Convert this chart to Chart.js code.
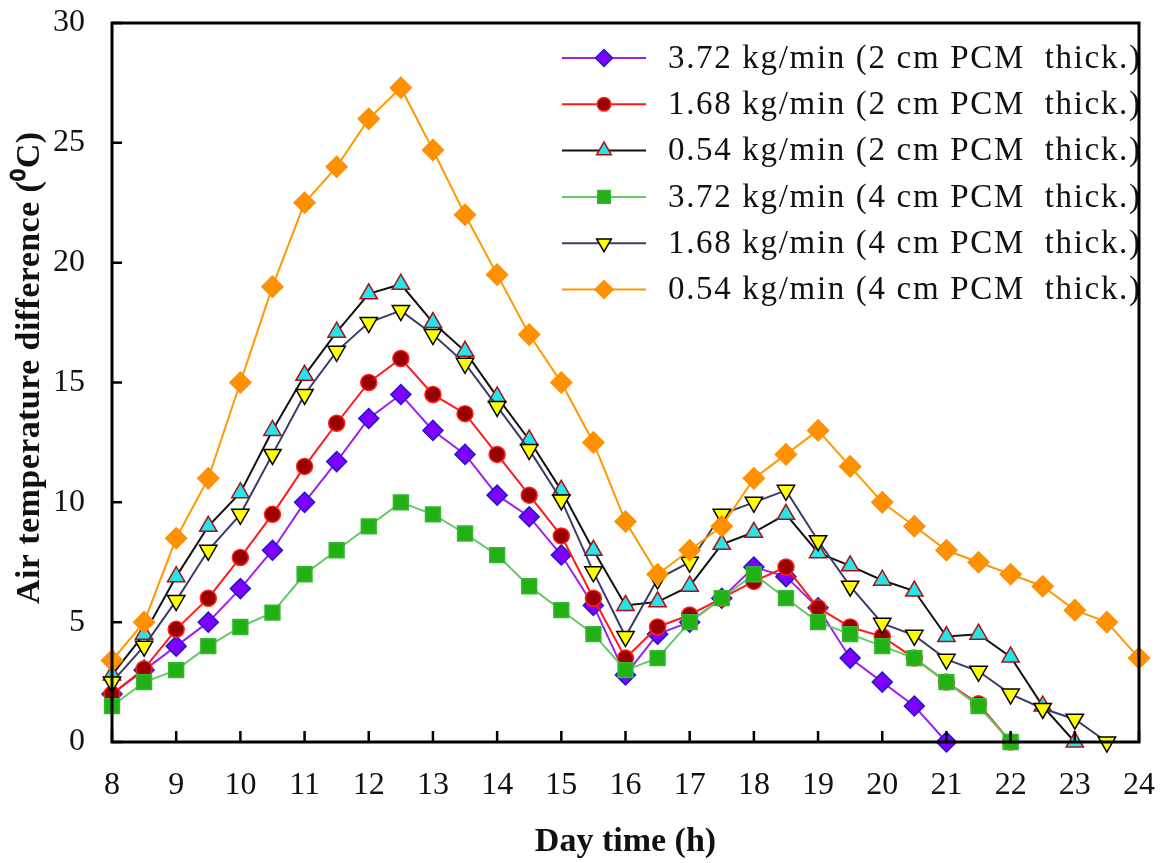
<!DOCTYPE html>
<html>
<head>
<meta charset="utf-8">
<script src="https://cdn.jsdelivr.net/npm/chart.js@4.4.0/dist/chart.umd.min.js"></script>
<style>
html, body { margin: 0; padding: 0; background: #fff; }
</style>
</head>
<body>
<canvas id="chart" width="1162" height="863"></canvas>
<script>
// x positions (hours), every half hour
const hours = [8, 8.5, 9, 9.5, 10, 10.5, 11, 11.5, 12, 12.5, 13, 13.5, 14, 14.5, 15, 15.5, 16,
    16.5, 17, 17.5, 18, 18.5, 19, 19.5, 20, 20.5, 21, 21.5, 22, 22.5, 23, 23.5, 24];

const seriesLabels = [
    '3.72 kg/min (2 cm PCM  thick.)',
    '1.68 kg/min (2 cm PCM  thick.)',
    '0.54 kg/min (2 cm PCM  thick.)',
    '3.72 kg/min (4 cm PCM  thick.)',
    '1.68 kg/min (4 cm PCM  thick.)',
    '0.54 kg/min (4 cm PCM  thick.)'
];

// values
const flow372cm2 = [2.0, 3.0, 4.0, 5.0, 6.4, 8.0, 10.0, 11.7, 13.5, 14.5, 13.0, 12.0, 10.3, 9.4, 7.8, 5.7, 2.8,
    4.5, 5.0, 6.0, 7.3, 6.9, 5.6, 3.5, 2.5, 1.5, 0];
const flow168cm2 = [2.0, 3.05, 4.7, 6.0, 7.7, 9.5, 11.5, 13.3, 15.0, 16.0, 14.5, 13.7, 12.0, 10.3, 8.6, 6.0, 3.5,
    4.8, 5.3, 6.0, 6.7, 7.3, 5.6, 4.8, 4.4, 3.5, 2.5, 1.6, 0];
const flow054cm2 = [2.8, 4.5, 6.9, 9.0, 10.4, 13.0, 15.3, 17.1, 18.7, 19.1, 17.5, 16.3, 14.4, 12.6, 10.5, 8.0, 5.7,
    5.85, 6.5, 8.25, 8.75, 9.5, 7.9, 7.35, 6.75, 6.3, 4.4, 4.5, 3.55, 1.5, 0];
const flow372cm4 = [1.5, 2.5, 3.0, 4.0, 4.8, 5.4, 7.0, 8.0, 9.0, 10.0, 9.5, 8.7, 7.8, 6.5, 5.5, 4.5, 3.0,
    3.5, 5.0, 6.0, 7.0, 6.0, 5.0, 4.5, 4.0, 3.5, 2.5, 1.5, 0];
const flow168cm4 = [2.5, 4.0, 5.9, 8.0, 9.5, 12.0, 14.5, 16.3, 17.5, 18.0, 17.0, 15.8, 14.0, 12.2, 10.1, 7.1, 4.4,
    6.8, 7.5, 9.5, 10.0, 10.5, 8.4, 6.5, 4.95, 4.45, 3.45, 2.95, 2.0, 1.4, 0.95, 0];
const flow054cm4 = [3.4, 5.0, 8.5, 11.0, 15.0, 19.0, 22.5, 24.0, 26.0, 27.3, 24.7, 22.0, 19.5, 17.0, 15.0, 12.5, 9.2,
    7.0, 8.0, 9.0, 11.0, 12.0, 13.0, 11.5, 10.0, 9.0, 8.0, 7.5, 7.0, 6.5, 5.5, 5.0, 3.5];

const xTicks = [8, 9, 10, 11, 12, 13, 14, 15, 16, 17, 18, 19, 20, 21, 22, 23, 24];
const yTicks = [0, 5, 10, 15, 20, 25, 30];

const yTitle = 'Air temperature difference (\u2070C)';

const allValues = [flow372cm2, flow168cm2, flow054cm2, flow372cm4, flow168cm4, flow054cm4];

// styles
const lineColors = ['#a020f0', '#ff1a1a', '#111111', '#66c766', '#3c3c66', '#ff9900'];
const fillColors = ['#8000ff', '#990000', '#22e6ee', '#22b014', '#ffff00', '#ff9000'];
const edgeColors = ['#1a1acc', '#ff2020', '#aa1111', '#33b833', '#000000', '#ff9000'];
const shapes = ['rectRot', 'circle', 'triangle', 'rect', 'triangle', 'rectRot'];
const rotations = [0, 0, 0, 0, 180, 0];
const radii = [10, 8, 10, 10.5, 10, 10.5];

const serif = '"Liberation Serif", "Times New Roman", serif';

function drawMarker(ctx, shape, rot, r, x, y) {
    ctx.beginPath();
    if (shape === 'circle') {
        ctx.arc(x, y, r, 0, Math.PI * 2);
    } else if (shape === 'rectRot') {
        ctx.moveTo(x - r, y); ctx.lineTo(x, y - r); ctx.lineTo(x + r, y); ctx.lineTo(x, y + r);
    } else if (shape === 'rect') {
        const s = Math.SQRT1_2 * r;
        ctx.rect(x - s, y - s, 2 * s, 2 * s);
    } else if (shape === 'triangle') {
        let a = rot * Math.PI / 180;
        ctx.moveTo(x + Math.sin(a) * r, y - Math.cos(a) * r);
        a += 2 * Math.PI / 3;
        ctx.lineTo(x + Math.sin(a) * r, y - Math.cos(a) * r);
        a += 2 * Math.PI / 3;
        ctx.lineTo(x + Math.sin(a) * r, y - Math.cos(a) * r);
    }
    ctx.closePath();
    ctx.fill();
    ctx.stroke();
}

// text spread out to a given width (the original's glyphs run wider)
function spreadText(ctx, text, x, y, width) {
    const w = ctx.measureText(text).width;
    ctx.letterSpacing = Math.max(0, (width - w) / (text.length - 1)) + 'px';
    ctx.fillText(text, x, y);
    ctx.letterSpacing = '0px';
}

// legend inside the plot, y title, frame with inward ticks
const framePlugin = {
    id: 'frame',
    afterDatasetsDraw(chart) {
        const ctx = chart.ctx;
        ctx.save();
        chart.data.datasets.forEach((ds, i) => {
            const y = 58 + i * 46.3;
            ctx.strokeStyle = ds.borderColor;
            ctx.lineWidth = 2;
            ctx.beginPath();
            ctx.moveTo(562, y);
            ctx.lineTo(646, y);
            ctx.stroke();
            ctx.fillStyle = ds.pointBackgroundColor;
            ctx.strokeStyle = ds.pointBorderColor;
            ctx.lineWidth = 1.5;
            drawMarker(ctx, ds.pointStyle, ds.pointRotation, ds.pointRadius * 0.85, 604, y);
            ctx.fillStyle = '#111';
            ctx.font = '33px ' + serif;
            ctx.textBaseline = 'middle';
            ctx.textAlign = 'left';
            spreadText(ctx, ds.label, 668, y + 1, 472);
        });
        // y axis title
        ctx.translate(30, 368);
        ctx.rotate(-Math.PI / 2);
        ctx.font = 'bold 34px ' + serif;
        ctx.textAlign = 'left';
        ctx.textBaseline = 'middle';
        ctx.fillStyle = '#111';
        spreadText(ctx, yTitle, -236, 0, 472);
        ctx.restore();
    },
    afterDraw(chart) {
        const ctx = chart.ctx;
        const a = chart.chartArea;
        const xs = chart.scales.x, ys = chart.scales.y;
        ctx.save();
        ctx.strokeStyle = '#000';
        ctx.lineWidth = 3;
        ctx.strokeRect(a.left, a.top, a.right - a.left, a.bottom - a.top);
        ctx.lineWidth = 2.5;
        ctx.beginPath();
        xTicks.forEach(v => {
            const px = xs.getPixelForValue(v);
            ctx.moveTo(px, a.bottom);
            ctx.lineTo(px, a.bottom - 11);
        });
        yTicks.forEach(v => {
            const py = ys.getPixelForValue(v);
            ctx.moveTo(a.left, py);
            ctx.lineTo(a.left + 10, py);
        });
        ctx.stroke();
        ctx.restore();
    }
};

const datasets = allValues.map((vals, i) => ({
    label: seriesLabels[i],
    data: vals.map((v, k) => ({x: hours[k], y: v})),
    borderColor: lineColors[i],
    borderWidth: 2,
    pointStyle: shapes[i],
    pointRotation: rotations[i],
    pointRadius: radii[i],
    pointBackgroundColor: fillColors[i],
    pointBorderColor: edgeColors[i],
    pointBorderWidth: 1.5,
    tension: 0,
    clip: false,
    order: allValues.length - i
}));

const ctx = document.getElementById('chart');
new Chart(ctx, {
    type: 'line',
    data: {datasets},
    options: {
        responsive: false,
        animation: false,
        devicePixelRatio: 1,
        layout: {padding: {top: 23, right: 23, left: 0, bottom: 0}},
        scales: {
            x: {
                type: 'linear',
                min: 8,
                max: 24,
                afterFit: (s) => { s.height = 121; s.paddingLeft = 0; s.paddingRight = 0; },
                afterBuildTicks: (s) => { s.ticks = xTicks.map(v => ({value: v})); },
                grid: {display: false},
                border: {display: false},
                ticks: {
                    color: '#111',
                    font: {family: serif, size: 32},
                    padding: 16,
                    maxRotation: 0
                },
                title: {
                    display: true,
                    text: 'Day time (h)',
                    color: '#111',
                    font: {family: serif, size: 34, weight: 'bold'},
                    padding: {top: 0, bottom: 0}
                }
            },
            y: {
                min: 0,
                max: 30,
                afterFit: (s) => { s.width = 112; s.paddingTop = 0; s.paddingBottom = 0; },
                afterBuildTicks: (s) => { s.ticks = yTicks.map(v => ({value: v})); },
                grid: {display: false},
                border: {display: false},
                ticks: {
                    color: '#111',
                    font: {family: serif, size: 32},
                    padding: 19
                }
            }
        },
        plugins: {
            legend: {display: false},
            tooltip: {enabled: false}
        }
    },
    plugins: [framePlugin]
});
</script>
</body>
</html>
